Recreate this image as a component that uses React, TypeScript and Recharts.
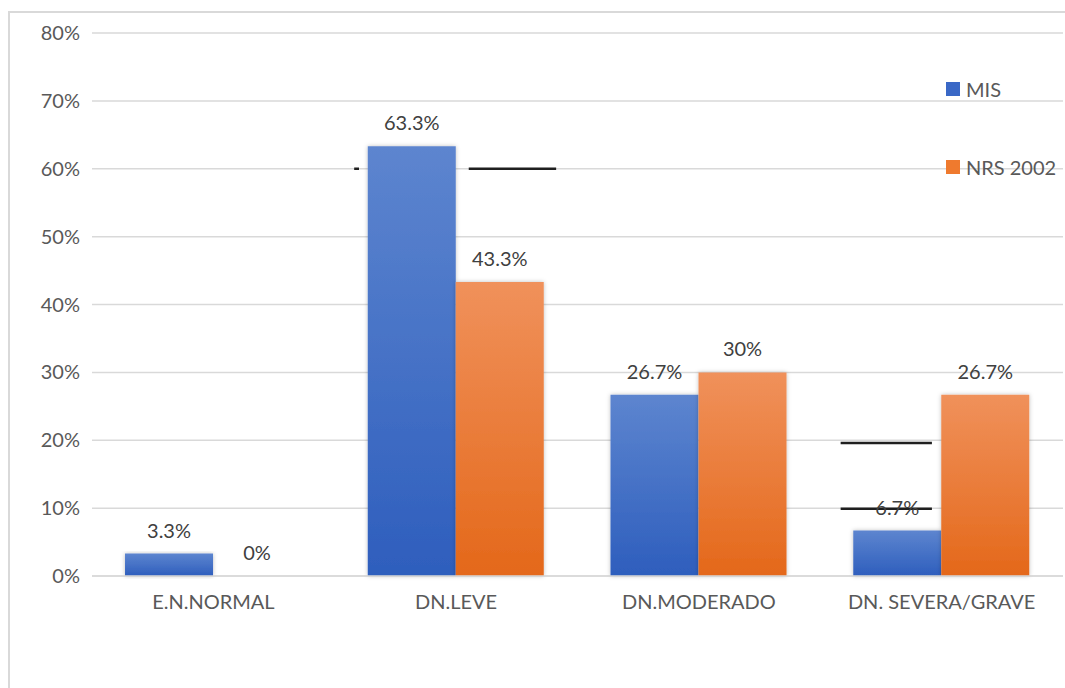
import {
  BarChart,
  Bar,
  XAxis,
  YAxis,
  CartesianGrid,
  LabelList,
  ReferenceLine,
} from 'recharts';

const categories = ['E.N.NORMAL', 'DN.LEVE', 'DN.MODERADO', 'DN. SEVERA/GRAVE'];
const misValues = [3.3, 63.3, 26.7, 6.7];
const nrsValues = [0, 43.3, 30, 26.7];
const yTicks = [0, 10, 20, 30, 40, 50, 60, 70, 80];

// short dark strokes that sit across the plot (value, start/end as share of plot width)
const strokeLevels = [60, 60, 19.6, 9.9];
const strokeFrom = [0.27, 0.388, 0.771, 0.771];
const strokeTo = [0.275, 0.478, 0.865, 0.865];

const FONT = 'Lato, "Open Sans", sans-serif';
const FONT_SIZE = 20;

const data = categories.map((name, i) => ({
  name,
  mis: misValues[i],
  nrs: nrsValues[i],
}));

const pct = (v: any) => `${v}%`;

function StrokeShape(from: number, to: number) {
  return (props: any) => {
    const { x1, x2, y1 } = props;
    if (x1 == null || y1 == null) return <g />;
    const w = x2 - x1;
    return (
      <line
        x1={x1 + w * from}
        x2={x1 + w * to}
        y1={y1}
        y2={y1}
        stroke="#1f1f1f"
        strokeWidth={2.5}
      />
    );
  };
}

function Legend() {
  const item = (color: string, text: string, top: number) => (
    <div
      style={{
        position: 'absolute',
        left: 936,
        top,
        display: 'flex',
        alignItems: 'center',
        fontFamily: FONT,
        fontSize: FONT_SIZE,
        color: '#595959',
      }}
    >
      <span style={{ width: 14, height: 14, background: color, marginRight: 6 }} />
      {text}
    </div>
  );
  return (
    <>
      {item('#3a68c6', 'MIS', 64)}
      {item('#ef7a2e', 'NRS 2002', 142)}
    </>
  );
}

export default function App() {
  return (
    <div
      style={{
        position: 'absolute',
        left: 8,
        top: 11,
        width: 1055,
        height: 675,
        borderTop: '2px solid #d9d9d9',
        borderLeft: '2px solid #d9d9d9',
      }}
    >
      <BarChart
        width={1055}
        height={665}
        data={data}
        margin={{ top: 20, right: 2, left: 0, bottom: 62 }}
        barCategoryGap="13.6%"
        barGap={0}
      >
        <defs>
          <linearGradient id="gradMis" x1="0" y1="0" x2="0" y2="1">
            <stop offset="0%" stopColor="#5d85cf" />
            <stop offset="100%" stopColor="#2e5ebd" />
          </linearGradient>
          <linearGradient id="gradNrs" x1="0" y1="0" x2="0" y2="1">
            <stop offset="0%" stopColor="#f0915b" />
            <stop offset="100%" stopColor="#e4681a" />
          </linearGradient>
          <filter id="barShadow" x="-10%" y="-10%" width="120%" height="120%">
            <feDropShadow dx="0" dy="0" stdDeviation="2" floodColor="#000" floodOpacity="0.25" />
          </filter>
        </defs>
        <CartesianGrid vertical={false} stroke="#d9d9d9" strokeWidth={1.5} />
        <XAxis
          dataKey="name"
          axisLine={{ stroke: '#d9d9d9', strokeWidth: 1.5 }}
          tickLine={false}
          height={40}
          tickMargin={13}
          tick={{ fill: '#595959', fontSize: FONT_SIZE, fontFamily: FONT }}
        />
        <YAxis
          domain={[0, 80]}
          ticks={yTicks}
          tickFormatter={pct}
          axisLine={false}
          tickLine={false}
          width={82}
          tickMargin={6}
          tick={{ fill: '#595959', fontSize: FONT_SIZE, fontFamily: FONT }}
        />
        <Bar
          dataKey="mis"
          name="MIS"
          fill="url(#gradMis)"
          filter="url(#barShadow)"
          minPointSize={0.01}
          isAnimationActive={false}
        >
          <LabelList
            dataKey="mis"
            position="top"
            offset={16}
            formatter={pct}
            fill="#404040"
            fontSize={FONT_SIZE}
            fontFamily={FONT}
          />
        </Bar>
        <Bar
          dataKey="nrs"
          name="NRS 2002"
          fill="url(#gradNrs)"
          filter="url(#barShadow)"
          minPointSize={0.01}
          isAnimationActive={false}
        >
          <LabelList
            dataKey="nrs"
            position="top"
            offset={16}
            formatter={pct}
            fill="#404040"
            fontSize={FONT_SIZE}
            fontFamily={FONT}
          />
        </Bar>
        {strokeLevels.map((v, i) => (
          <ReferenceLine
            key={i}
            y={v}
            stroke="none"
            shape={StrokeShape(strokeFrom[i], strokeTo[i])}
          />
        ))}
      </BarChart>
      <Legend />
    </div>
  );
}
